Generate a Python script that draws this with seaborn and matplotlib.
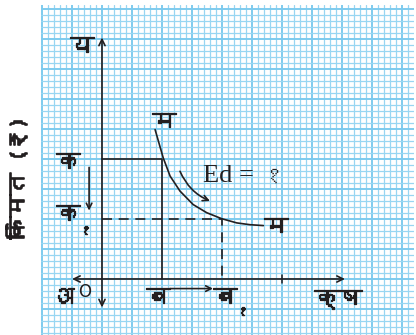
import matplotlib
matplotlib.use("Agg")
import matplotlib.pyplot as plt
import matplotlib.patheffects as pe
import seaborn as sns
import pandas as pd
from matplotlib import font_manager, ft2font

# demand curve (quantity, price), origin at 0
curve_q = [1.77, 2.04, 2.27, 2.60, 3.04, 3.49, 3.99, 4.49, 4.93, 5.38]
curve_p = [4.98, 4.04, 3.43, 2.93, 2.48, 2.21, 2.01, 1.87, 1.81, 1.78]
price_old, price_new = 4, 2   # क , क१
qty_old, qty_new = 2, 4       # ब , ब१
qty_tick = 6
axis_x = [-1.0, 8.1]
axis_y = [-0.95, 8.05]

ink = "#231f20"
grid_major = "#7ecbee"
grid_minor = "#98d6f2"


def find_font(ch):
    for f in font_manager.fontManager.ttflist:
        try:
            if ord(ch) in ft2font.FT2Font(f.fname).get_charmap():
                return f.name
        except Exception:
            pass
    return None


deva = find_font("क")
fams = [deva, "DejaVu Sans"] if deva else ["DejaVu Sans"]

sns.set_style("white")
plt.rcParams["font.family"] = fams

fig = plt.figure(figsize=(4.16, 3.35), dpi=100)
ax = fig.add_axes([41 / 416, 0, 373 / 416, 330 / 335])
ax.set_xlim(-2.033, 10.4)
ax.set_ylim(-1.867, 9.133)

# graph paper
ax.set_xticks([i for i in range(-2, 11)])
ax.set_yticks([i for i in range(-1, 10)])
ax.set_xticks([i / 5 for i in range(-10, 52)], minor=True)
ax.set_yticks([i / 5 for i in range(-9, 46)], minor=True)
ax.grid(which="major", color=grid_major, lw=1.4)
ax.grid(which="minor", color=grid_minor, lw=0.9)
ax.tick_params(which="both", length=0, labelbottom=False, labelleft=False)
for s in ax.spines.values():
    s.set_visible(False)
ax.set_axisbelow(True)

# axes with arrows at both ends
arrow_kw = dict(arrowstyle="<->,head_length=0.45,head_width=0.22", lw=1.2, color=ink,
                shrinkA=0, shrinkB=0)
ax.annotate("", xy=(axis_x[1], 0), xytext=(axis_x[0], 0), arrowprops=arrow_kw)
ax.annotate("", xy=(0, axis_y[1]), xytext=(0, axis_y[0]), arrowprops=arrow_kw)
ax.plot([qty_tick, qty_tick], [-0.13, 0.13], color=ink, lw=1.1)

# price / quantity guides
ax.plot([0, qty_old, qty_old], [price_old, price_old, 0], color=ink, lw=1.2)
ax.plot([0, qty_new, qty_new], [price_new, price_new, 0], color=ink, lw=1.2,
        dashes=(6, 4))

# demand curve
df = pd.DataFrame({"q": curve_q, "p": curve_p})
sns.lineplot(data=df, x="q", y="p", sort=False, estimator=None, color=ink, lw=1.2, ax=ax)
ax.set_xlabel("")
ax.set_ylabel("")

# movement arrows
move_kw = dict(arrowstyle="->,head_length=0.4,head_width=0.2", lw=1.2, color=ink,
               shrinkA=0, shrinkB=0)
ax.annotate("", xy=(-0.43, price_new + 0.28), xytext=(-0.43, price_old - 0.28),
            arrowprops=move_kw)
ax.annotate("", xy=(qty_new - 0.3, -0.32), xytext=(qty_old + 0.27, -0.32),
            arrowprops=move_kw)
ax.annotate("", xy=(3.6, 2.6), xytext=(2.6, 3.59),
            arrowprops=dict(move_kw, connectionstyle="arc3,rad=0.2"))

# labels
bold = [pe.withStroke(linewidth=0.9, foreground=ink)]
lab = dict(fontsize=17, color=ink, ha="center", va="center", path_effects=bold)
sub = dict(fontsize=10, color=ink, ha="center", va="center", path_effects=bold)
ax.text(-0.67, 7.75, "य", **lab)
ax.text(2.07, 5.22, "म", **lab)
ax.text(5.8, 1.72, "म", **lab)
ax.text(-1.13, 3.88, "क", **lab)
ax.text(-1.13, 2.15, "क", **lab)
ax.text(-0.55, 1.62, "१", **sub)
ax.text(-1.33, -0.62, "अ", **lab)
ax.text(-0.57, -0.42, "O", fontsize=12, color=ink, ha="center", va="center",
        family=["DejaVu Sans"])
ax.text(1.87, -0.62, "ब", **lab)
ax.text(4.1, -0.62, "ब", **lab)
ax.text(4.68, -1.08, "१", **sub)
ax.text(7.87, -0.68, "क्ष", **lab)
ax.text(3.37, 3.42, "Ed =", fontsize=19, color=ink, ha="left", va="center",
        family=["Liberation Serif"])
ax.text(5.3, 3.42, "१", fontsize=17, color=ink, ha="left", va="center")

fig.text(18 / 416, 1 - 178 / 335, "किंमत (₹)", rotation=90, fontsize=16,
         color=ink, ha="center", va="center",
         path_effects=[pe.withStroke(linewidth=1.2, foreground=ink)])

fig.savefig("out.png", dpi=100)
